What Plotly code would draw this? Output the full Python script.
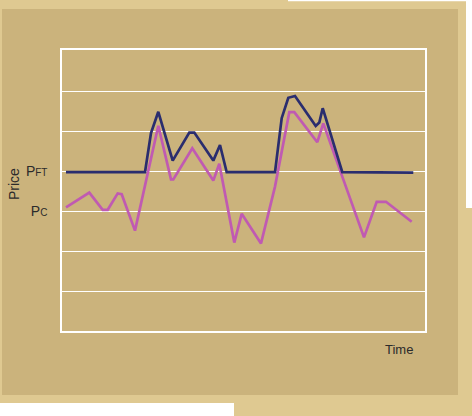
import plotly.graph_objects as go

# Time axis units (arbitrary), price in grid units
pft_time = [4, 83, 89, 96.3, 110.7, 127.3, 132.3, 151.3, 158, 164.7, 213, 219.7, 226.3, 233, 253.7, 257.3, 260.7, 280.3, 351.3]
pft_price = [3.97, 3.97, 4.95, 5.48, 4.26, 4.96, 4.96, 4.26, 4.65, 3.97, 3.97, 5.32, 5.83, 5.875, 5.125, 5.21, 5.57, 3.97, 3.96]

pc_time = [4, 27.3, 40.7, 45.7, 55.7, 59.7, 73, 96.3, 109, 111.3, 130.3, 151.3, 157.3, 172.3, 179.7, 199, 213, 227.3, 232.3, 255.3, 261.3, 302, 314.7, 324, 349.7]
pc_price = [3.09, 3.46, 3.03, 3.03, 3.44, 3.42, 2.51, 5.13, 3.79, 3.79, 4.57, 3.76, 4.18, 2.21, 2.93, 2.19, 3.61, 5.47, 5.47, 4.72, 5.19, 2.34, 3.23, 3.23, 2.73]

grid_vals = [0, 1, 2, 3, 4, 5, 6, 7]
grid_text = ["", "", "", "P<span style='font-size:10px'>C</span>",
             "P<span style='font-size:10px'>FT</span>", "", "", ""]

DARK = "#cbb37c"
LIGHT = "#dfc991"
W, H = 472, 416
L, R, T, B = 62, 47, 50, 85
PW, PH = W - L - R, H - T - B


def fx(px):
    return (px - L) / PW


def fy(py):
    return (H - B - py) / PH


fig = go.Figure()
fig.add_trace(go.Scatter(x=pc_time, y=pc_price, mode="lines",
                         line=dict(color="#c05ab2", width=2.7), hoverinfo="skip"))
fig.add_trace(go.Scatter(x=pft_time, y=pft_price, mode="lines",
                         line=dict(color="#2a2d6e", width=2.7), hoverinfo="skip"))

shapes = []
def rect(x0, y0, x1, y1, color):
    shapes.append(dict(type="rect", xref="paper", yref="paper", layer="below",
                       x0=fx(x0), x1=fx(x1), y0=fy(y1), y1=fy(y0),
                       fillcolor=color, line=dict(width=0)))

rect(288, -2, 474, 1.3, "white")
rect(466, -2, 474, 208, "white")
rect(-2, 403, 234, 418, "white")
rect(2, 9, 458, 395, DARK)

fig.update_layout(
    width=W, height=H,
    margin=dict(l=L, r=R, t=T, b=B),
    paper_bgcolor=LIGHT,
    plot_bgcolor="rgba(0,0,0,0)",
    showlegend=False,
    shapes=shapes,
    font=dict(family="Liberation Sans Narrow, Liberation Sans, Arial", color="#2b2b2b"),
    xaxis=dict(range=[0, PW], showgrid=False, zeroline=False, showticklabels=False,
               ticks="", showline=True, mirror=True, linecolor="white", linewidth=1.5),
    yaxis=dict(range=[0, PH / 40], tickvals=grid_vals, ticktext=grid_text,
               showgrid=True, gridcolor="white", gridwidth=1, zeroline=False,
               ticks="", ticklabelstandoff=10, tickfont=dict(size=14, color="#2b2b2b"),
               showline=True, mirror=True, linecolor="white", linewidth=1.5),
    annotations=[
        dict(text="Price", x=fx(14), y=fy(184), xref="paper", yref="paper",
             xanchor="center", yanchor="middle",
             textangle=-90, showarrow=False, font=dict(size=14, color="#2b2b2b")),
        dict(text="Time", x=fx(399), y=fy(349), xref="paper", yref="paper",
             xanchor="center", yanchor="middle",
             showarrow=False, font=dict(size=13, color="#2b2b2b")),
    ],
)

fig.write_html("out.html", config={"displayModeBar": False},
               post_script="document.body.style.margin='0';document.body.style.overflow='hidden';")
